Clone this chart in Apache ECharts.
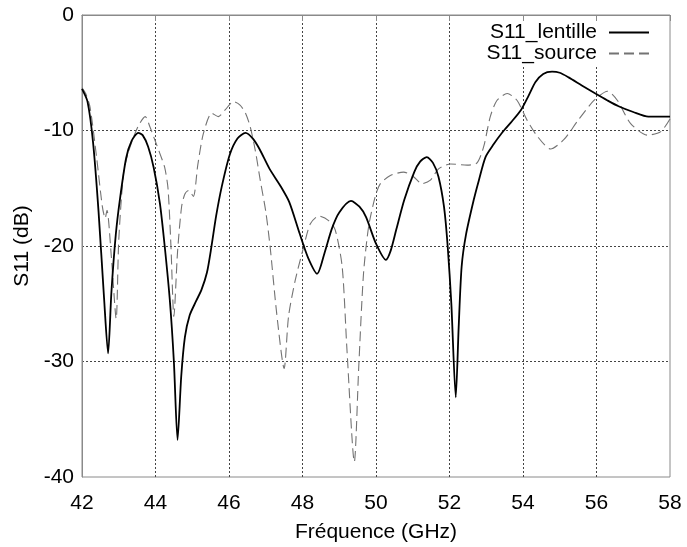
<!DOCTYPE html>
<html>
<head>
<meta charset="UTF-8">
<title>S11</title>
<script src="https://cdn.jsdelivr.net/npm/echarts@6.0.0/dist/echarts.min.js"></script>
<style>
  html, body { margin: 0; padding: 0; background: #fff; }
</style>
</head>
<body>
    <div id="main" style="width: 687px;height:547px;"></div>

    <script type="text/javascript">
        // S11_lentille (trait plein) : fréquence en GHz, S11 en dB
        var freqLentille = [42.00, 42.15, 42.30, 42.45, 42.60, 42.71, 42.80, 42.92, 43.03, 43.20,
            43.35, 43.53, 43.65, 43.80, 43.95, 44.12, 44.25, 44.39, 44.50, 44.60,
            44.70, 44.80, 44.93, 45.10, 45.25, 45.40, 45.52, 45.65, 45.80, 46.02,
            46.23, 46.45, 46.65, 46.83, 47.10, 47.40, 47.64, 47.92, 48.15, 48.40,
            48.60, 48.80, 49.00, 49.32, 49.55, 49.73, 50.00, 50.27, 50.40, 50.55,
            50.77, 51.04, 51.20, 51.38, 51.55, 51.70, 51.85, 51.95, 52.05, 52.17,
            52.25, 52.33, 52.45, 52.66, 52.80, 52.98, 53.20, 53.43, 53.70, 53.95,
            54.15, 54.34, 54.55, 54.79, 55.00, 55.24, 55.60, 55.97, 56.30, 56.60,
            57.00, 57.41, 57.70, 58.00];
        var s11Lentille = [-6.4, -7.5, -11.0, -17.0, -24.5, -29.3, -24.0, -19.0, -16.0, -12.4,
            -10.9, -10.2, -10.4, -11.4, -13.2, -16.3, -20.0, -24.7, -30.0, -36.8,
            -31.3, -27.9, -26.0, -24.8, -23.8, -22.3, -20.1, -17.4, -14.9, -12.1,
            -10.7, -10.2, -10.7, -11.6, -13.3, -14.8, -16.2, -18.9, -21.0, -22.4,
            -20.6, -18.5, -17.1, -16.1, -16.6, -17.5, -19.8, -21.2, -20.4, -18.6,
            -16.0, -13.6, -12.7, -12.3, -12.8, -14.0, -16.6, -20.0, -25.0, -33.1,
            -27.0, -21.8, -19.0, -16.0, -14.3, -12.3, -11.2, -10.2, -9.2, -8.2,
            -7.0, -5.8, -5.1, -4.9, -5.0, -5.4, -6.1, -6.8, -7.4, -7.9,
            -8.4, -8.8, -8.8, -8.8];

        // S11_source (tirets)
        var freqSource = [42.00, 42.10, 42.22, 42.40, 42.55, 42.63, 42.68, 42.80, 42.93, 43.00,
            43.13, 43.25, 43.40, 43.55, 43.72, 43.85, 43.98, 44.12, 44.25, 44.34,
            44.42, 44.50, 44.60, 44.71, 44.80, 44.90, 45.03, 45.15, 45.30, 45.53,
            45.71, 45.90, 46.12, 46.30, 46.45, 46.58, 46.72, 46.85, 47.00, 47.12,
            47.30, 47.50, 47.62, 47.80, 48.03, 48.21, 48.44, 48.71, 48.89, 49.08,
            49.21, 49.41, 49.53, 49.66, 49.80, 49.98, 50.12, 50.39, 50.75, 51.02,
            51.25, 51.48, 51.71, 52.03, 52.48, 52.75, 52.93, 53.11, 53.29, 53.57,
            53.84, 54.11, 54.39, 54.75, 55.11, 55.48, 55.93, 56.30, 56.57, 56.93,
            57.39, 57.75, 58.00];
        var s11Source = [-6.3, -6.8, -8.0, -12.4, -16.5, -17.6, -16.9, -21.0, -26.3, -19.5,
            -13.7, -12.0, -10.6, -9.5, -8.8, -9.7, -10.8, -12.0, -13.2, -15.0,
            -20.0, -26.1, -20.5, -16.6, -15.5, -15.2, -15.7, -13.0, -10.3, -8.5,
            -8.8, -8.2, -7.5, -7.8, -8.5, -9.7, -11.8, -14.3, -17.0, -20.1,
            -25.9, -30.6, -26.1, -23.0, -20.1, -18.1, -17.4, -17.8, -18.6, -21.8,
            -29.0, -38.7, -30.5, -22.4, -18.3, -15.7, -14.6, -13.9, -13.6, -14.0,
            -14.6, -14.3, -13.3, -12.9, -13.0, -12.8, -11.4, -8.8, -7.4, -6.8,
            -7.4, -9.1, -10.5, -11.6, -10.8, -9.2, -7.4, -6.6, -7.4, -9.4,
            -10.4, -10.1, -9.0];

        var xTicks = [42, 44, 46, 48, 50, 52, 54, 56, 58];
        var yTicks = [-40, -30, -20, -10, 0];

        function pairs(xs, ys) {
            return xs.map(function (x, i) { return [x, ys[i]]; });
        }

        var font = 'Liberation Sans, Arial, sans-serif';
        var txt = { fontSize: 21, fontFamily: font, color: '#000' };
        var grille = { color: '#444', type: [2, 2], width: 1 };

        var myChart = echarts.init(document.getElementById('main'));

        var option = {
            animation: false,
            backgroundColor: '#fff',
            grid: {
                left: 82, right: 17, top: 15, bottom: 70,
                outerBoundsMode: 'none',
                show: true, borderColor: '#8a8a8a', borderWidth: 1
            },
            legend: {
                data: ['S11_lentille', 'S11_source'],
                orient: 'vertical',
                align: 'right',
                right: 19,
                top: 17,
                padding: [5, 18, 2, 8],
                backgroundColor: '#fff',
                itemWidth: 40,
                itemHeight: 14,
                itemGap: 0,
                itemStyle: { opacity: 0 },
                textStyle: { fontSize: 21, fontFamily: font, color: '#000', lineHeight: 21, padding: [0, 7, 0, 0] }
            },
            xAxis: [{
                type: 'value',
                min: 42, max: 58, interval: 2,
                name: 'Fréquence (GHz)',
                nameLocation: 'middle',
                nameGap: 45,
                nameTextStyle: txt,
                axisLine: { lineStyle: { color: '#8a8a8a' } },
                axisTick: { show: false },
                axisLabel: Object.assign({ margin: 16, customValues: xTicks }, txt),
                splitLine: { showMinLine: false, showMaxLine: false, lineStyle: grille }
            }, {
                // petites graduations du cadre haut (visibles sous la légende)
                type: 'value',
                position: 'top',
                min: 42, max: 58, interval: 2,
                z: 10,
                axisLine: { show: false },
                axisTick: { show: true, inside: true, length: 6, lineStyle: { color: '#8a8a8a' } },
                axisLabel: { show: false },
                splitLine: { show: false }
            }],
            yAxis: {
                type: 'value',
                min: -40, max: 0, interval: 10,
                name: 'S11 (dB)',
                nameLocation: 'middle',
                nameGap: 47,
                nameTextStyle: txt,
                axisLine: { show: true, lineStyle: { color: '#8a8a8a' } },
                axisTick: { show: false },
                axisLabel: Object.assign({ margin: 8, customValues: yTicks }, txt),
                splitLine: { showMinLine: false, showMaxLine: false, lineStyle: grille }
            },
            series: [{
                name: 'S11_lentille',
                type: 'line',
                data: pairs(freqLentille, s11Lentille),
                showSymbol: false,
                symbol: 'none',
                smooth: 0.25,
                lineStyle: { color: '#000', width: 1.8 },
                itemStyle: { color: '#000' },
                z: 3
            }, {
                name: 'S11_source',
                type: 'line',
                data: pairs(freqSource, s11Source),
                showSymbol: false,
                symbol: 'none',
                smooth: 0.25,
                lineStyle: { color: '#737373', width: 1.1, type: [10, 5] },
                itemStyle: { color: '#737373' },
                z: 2
            }]
        };
        myChart.setOption(option);
    </script>
</body>
</html>
